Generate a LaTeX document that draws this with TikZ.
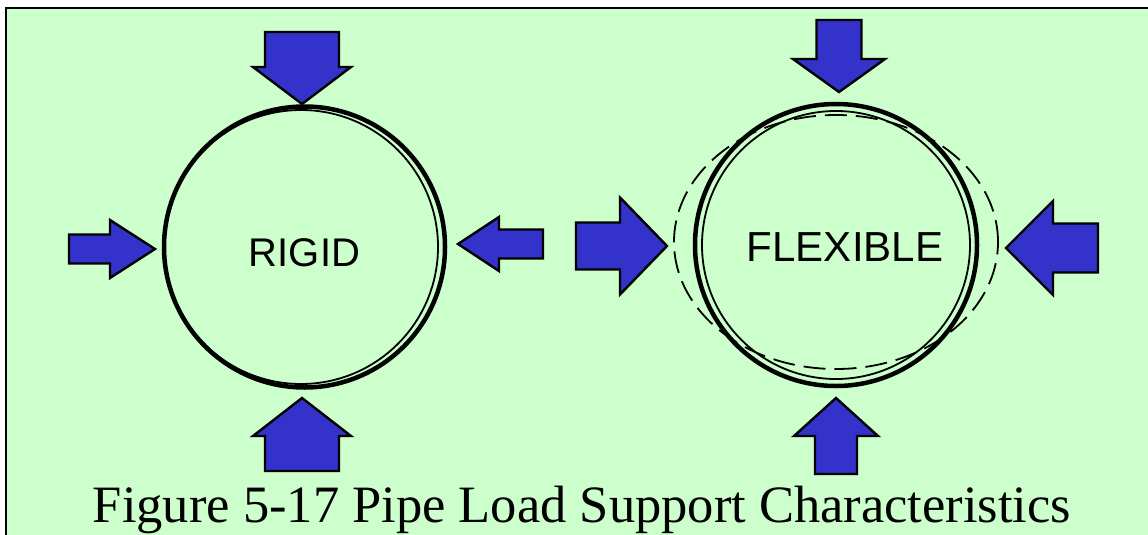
\documentclass[tikz,border=0pt]{standalone}
\usepackage{fontspec}
\setmainfont{Liberation Serif}
\newfontfamily\labelfont{Liberation Sans}
\usepackage{tikz}
\usetikzlibrary{calc}
\definecolor{bggreen}{HTML}{CCFFCC}
\definecolor{loadblue}{HTML}{3333CC}
% tip x, tip y, angle, head length, head half width, shaft length, shaft half width
\newcommand{\loadarrow}[7]{%
  \begin{scope}[shift={(#1,#2)},rotate=#3]
    \filldraw[load] (0,0)--(-#4,#5)--(-#4,#7)--({-#4-#6},#7)--({-#4-#6},-#7)--(-#4,-#7)--(-#4,-#5)--cycle;
  \end{scope}}

\begin{document}
\begin{tikzpicture}[x=1pt,y=-1pt,
    load/.style={fill=loadblue,draw=black,line width=2.4pt,line join=miter},
    pipe/.style={circle,draw=black,line width=4.5pt,inner sep=0pt,minimum size=#1},
    tag/.style={font=\labelfont\fontsize{40}{40}\selectfont,inner sep=0pt},
    caption/.style={font=\fontsize{52.5}{52.5}\selectfont,inner sep=0pt,anchor=base}]
  \useasboundingbox (0,0) rectangle (1148,535);
  \fill[white] (0,0) rectangle (1148,535);
  \fill[bggreen] (6,8) rectangle (1148,535);
  \draw[line width=2.5pt] (6,540)--(6,8)--(1150,8);

  % rigid pipe
  \node[pipe=281pt] (rigid) at (304.5,247) {};
  \draw[line width=1.8pt] ($(rigid.center)+(-3.5,0)$) circle (137pt);
  \node[tag] (rigidtag) at ($(rigid.center)+(0,6)$) {RIGID};
  \loadarrow{302}{104}{-90}{37}{49}{35}{37}
  \loadarrow{302}{398}{90}{38}{49}{35}{37}
  \loadarrow{155}{249}{0}{45}{29}{41}{14.5}
  \loadarrow{458}{244}{180}{41}{27}{44}{14.5}

  % flexible pipe
  \node[pipe=282pt] (flex) at (836,245) {};
  \draw[line width=1.8pt] (flex.center) circle (134pt);
  \draw[line width=1.8pt,dash pattern=on 22pt off 9pt] ($(flex.center)+(0,-3)$) ellipse (162pt and 127pt);
  \node[tag,font=\labelfont\fontsize{42}{42}\selectfont] (flextag) at ($(flex.center)+(9,2)$) {FLEXIBLE};
  \loadarrow{839}{92}{-90}{33}{46}{39}{22.5}
  \loadarrow{836}{398}{90}{38}{42}{38}{21}
  \loadarrow{667}{246}{0}{47}{48.5}{44}{23.5}
  \loadarrow{1006}{248}{180}{47}{47}{45}{24.5}

  \node[caption] (title) at (582,522) {Figure 5-17 Pipe Load Support Characteristics};
\end{tikzpicture}
\end{document}
